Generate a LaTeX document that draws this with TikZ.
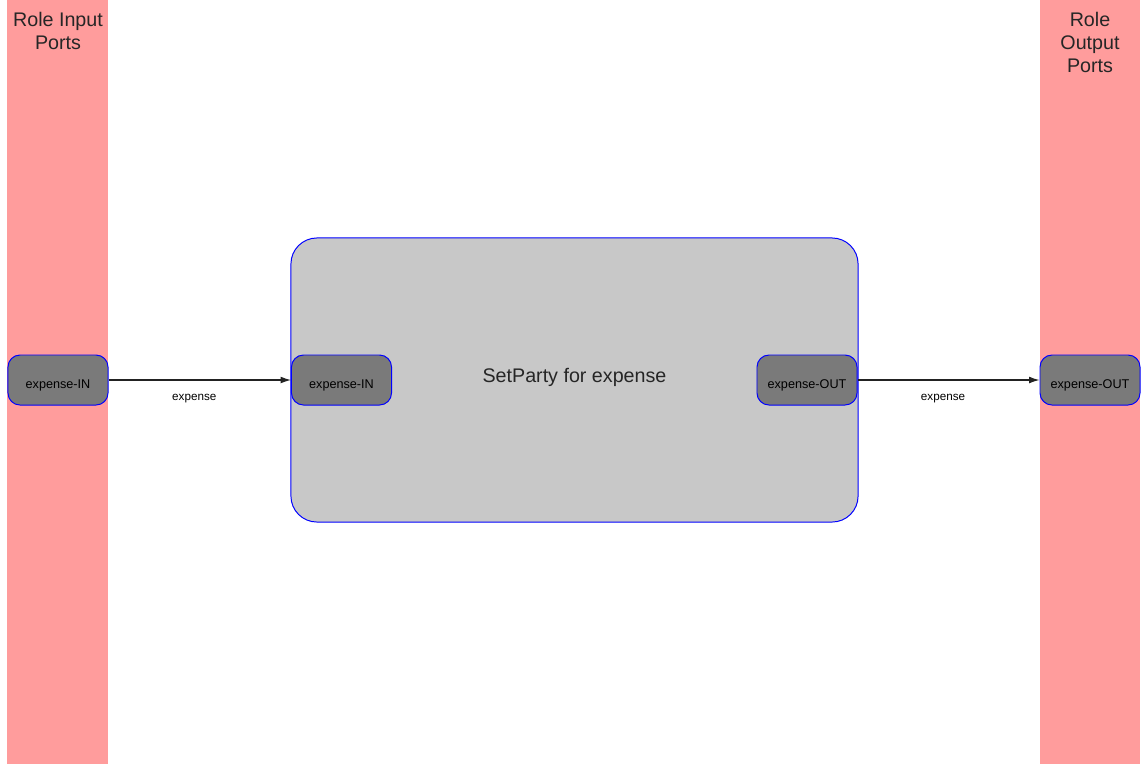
\documentclass[tikz,border=0pt]{standalone}
\usepackage{fontspec}
\setmainfont{Liberation Sans}
\usetikzlibrary{arrows.meta, positioning}
\definecolor{bandpink}{HTML}{FF9C9C}
\definecolor{taskgray}{HTML}{C8C8C8}
\definecolor{portgray}{HTML}{7A7A7A}
\definecolor{edgeblue}{HTML}{0000FF}
\definecolor{flowdark}{HTML}{222222}

\begin{document}
\begin{tikzpicture}[
  x=0.025cm, y=-0.025cm,
  >={Latex[length=2.6mm, width=1.7mm]},
  port/.style={draw=edgeblue, fill=portgray, line width=0.7pt,
    rounded corners=0.3cm, minimum width=2.5cm, minimum height=1.25cm,
    inner sep=0pt, text height=12pt, text depth=0pt,
    font=\fontsize{9}{10.8}\selectfont},
  flow/.style={->, flowdark, line width=0.8pt},
  flowlabel/.style={font=\fontsize{8.3}{10}\selectfont, text=black},
  bandtitle/.style={align=center, font=\fontsize{14}{16.4}\selectfont, text=black!85},
]

\useasboundingbox (0,0) rectangle (1144,764);

% Role port bands
\fill[bandpink] (7,0) rectangle (108,764);
\fill[bandpink] (1040,0) rectangle (1140,764);
\node[bandtitle, anchor=north] (intitle) at (58,7) {Role Input\\Ports};
\node[bandtitle, anchor=north] (outtitle) at (1090,7) {Role\\Output\\Ports};

% === Task ===
\node[draw=edgeblue, fill=taskgray, line width=0.7pt, rounded corners=0.65cm,
  minimum width=14.175cm, minimum height=7.1cm, text height=10pt, text depth=7pt,
  font=\fontsize{14}{16.8}\selectfont, text=black!85] (task) at (574.5,380)
  {SetParty for expense};

% Ports
\node[port] (rolein) at (58,380) {expense-IN};
\node[port] (taskin) at (341.5,380) {expense-IN};
\node[port] (taskout) at (807,380) {expense-OUT};
\node[port] (roleout) at (1090,380) {expense-OUT};

% Flows
\draw[flow] (rolein) -- node[flowlabel, below=6.5pt, pos=0.47] (lblin) {expense} (taskin);
\draw[flow] (taskout) -- node[flowlabel, below=6.5pt, pos=0.47] (lblout) {expense} (roleout);

\end{tikzpicture}
\end{document}
